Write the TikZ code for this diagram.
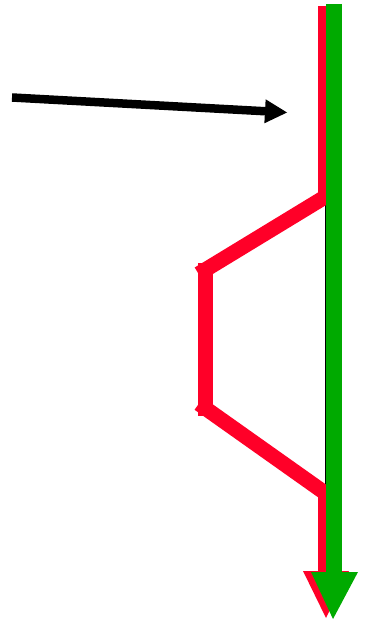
\documentclass[tikz,border=0pt]{standalone}
\usetikzlibrary{calc}
\definecolor{myred}{RGB}{255,0,40}
\definecolor{mygreen}{RGB}{0,170,0}
\begin{document}
\begin{tikzpicture}[x=1pt,y=-1pt,
  redline/.style={draw=myred,line width=15pt,line cap=butt},
  redseg/.style={draw=myred,line width=15pt,line cap=rect},
  greenline/.style={draw=mygreen,line width=16pt,line cap=butt},
  blackline/.style={draw=black,line width=8.5pt,line cap=butt}]
\useasboundingbox (0,0) rectangle (366,620);
% thin black underlying line
\coordinate (k1) at (325,6);
\coordinate (k2) at (325,575);
\draw[black,line width=1pt] (k1) -- (k2);
% red path
\coordinate (r0) at (325,6);
\coordinate (r1) at (325,197);
\coordinate (r2) at (205,270);
\coordinate (r3) at (205,408);
\coordinate (r4) at (325,493);
\coordinate (r5) at (325,573);
\draw[redline] (r0) -- (r1);
\draw[redseg] (r1) -- (r2);
\draw[redseg] (r2) -- (r3);
\draw[redseg] (r3) -- (r4);
\draw[redline] (r4) -- (r5);
\fill[myred] (303,571) -- (349,571) -- (326,618) -- cycle;
% green path
\coordinate (g0) at (334,4);
\coordinate (g1) at (334,574);
\draw[greenline] (g0) -- (g1);
\fill[mygreen] (311,572) -- (358,572) -- (333,619) -- cycle;
% black arrow
\coordinate (b0) at (12,97.5);
\coordinate (b1) at (266,111.3);
\draw[blackline] (b0) -- (b1);
\fill[black] (264.35,123.3) -- (287,112.5) -- (265.65,99.3) -- cycle;
\end{tikzpicture}
\end{document}
